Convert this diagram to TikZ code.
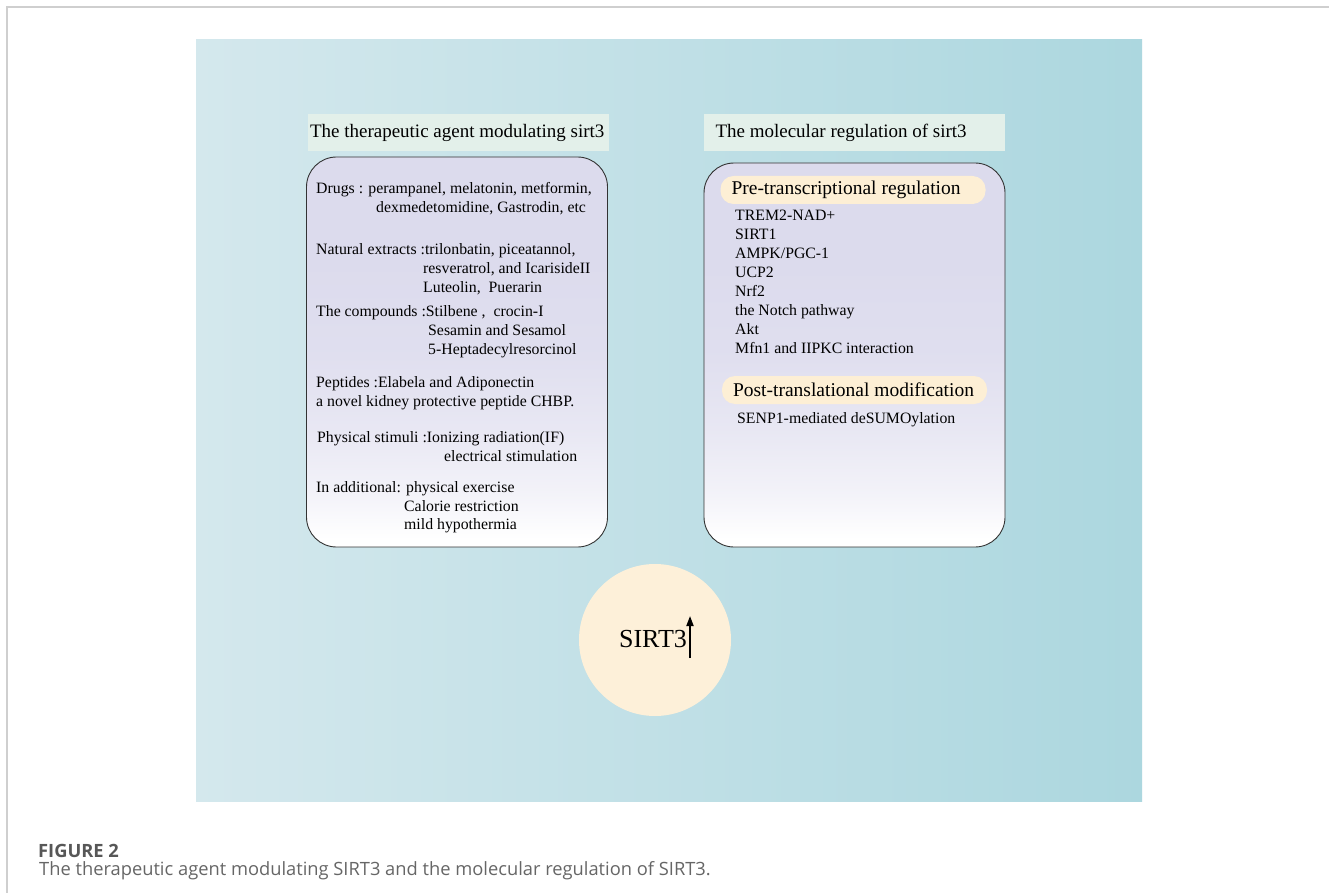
\documentclass[tikz,border=0pt]{standalone}
\usepackage{fontspec}
\setmainfont{Liberation Serif}
\newfontfamily\capfont{Open Sans}
\usetikzlibrary{arrows.meta}

\definecolor{frameline}{HTML}{CFCFCF}
\definecolor{panelleft}{HTML}{D4E8ED}
\definecolor{panelright}{HTML}{ACD7DF}
\definecolor{titlegreen}{HTML}{E3F0EA}
\definecolor{boxlav}{HTML}{DCDBED}
\definecolor{peach}{HTML}{FDEFD5}
\definecolor{sirtfill}{HTML}{FDF0D9}
\definecolor{captext}{HTML}{666666}

% lavender at the top, fading to white near the bottom
\pgfdeclareverticalshading{boxfade}{100bp}{color(0bp)=(white); color(26bp)=(white);
  color(32bp)=(boxlav!35!white); color(40bp)=(boxlav!65!white); color(50bp)=(boxlav!90!white);
  color(62bp)=(boxlav); color(100bp)=(boxlav)}

\begin{document}
\begin{tikzpicture}[x=1pt,y=-1pt,
  titlebox/.style={fill=titlegreen,inner sep=0pt,minimum width=301pt,minimum height=37pt},
  titletext/.style={font=\fontsize{19}{22}\selectfont,inner sep=0pt,anchor=west},
  agentbox/.style={draw=black!80,line width=0.9pt,rounded corners=30pt,shading=boxfade,
    inner sep=0pt,minimum width=301pt},
  bodytext/.style={font=\fontsize{15.8}{19}\selectfont,inner sep=0pt,anchor=base west},
  headband/.style={fill=peach,rounded corners=13pt,inner sep=0pt,minimum width=265pt,minimum height=28pt},
  headtext/.style={font=\fontsize{19.5}{22}\selectfont,inner sep=0pt,anchor=west}]
\useasboundingbox (0,0) rectangle (1329,893);
\fill[white] (0,0) rectangle (1329,893);
\draw[frameline,line width=1.5pt] (7,893) -- (7,7) -- (1329,7);

% background panel
\shade[left color=panelleft,right color=panelright] (196,40) rectangle (1142,801);

% left column: therapeutic agents
\node[titlebox] (agenttitle) at (458.5,132.5) {};
\node[titletext] at ([xshift=2pt]agenttitle.west) {The therapeutic agent modulating sirt3};
\node[agentbox,minimum height=390pt] (agents) at (457,352) {};

\node[bodytext] (drugs) at (316,193.5) {Drugs : perampanel, melatonin, metformin,};
\node[bodytext] at (376,212.5) {dexmedetomidine, Gastrodin, etc};
\node[bodytext] (natural) at (316,254.5) {Natural extracts :trilonbatin, piceatannol,};
\node[bodytext] at (423,273.5) {resveratrol, and IcarisideII};
\node[bodytext] at (423,292.5) {Luteolin,\ \ Puerarin};
\node[bodytext] (compounds) at (316,316.5) {The compounds :Stilbene ,\ \ crocin-I};
\node[bodytext] at (428,335.5) {Sesamin and Sesamol};
\node[bodytext] at (428,354.5) {5-Heptadecylresorcinol};
\node[bodytext] (peptides) at (316,387.5) {Peptides :Elabela and Adiponectin};
\node[bodytext] at (316,406.5) {a novel kidney protective peptide CHBP.};
\node[bodytext] (physical) at (317,442.5) {Physical stimuli :Ionizing radiation(IF)};
\node[bodytext] at (444,461.5) {electrical stimulation};
\node[bodytext] (additional) at (316,492.5) {In additional: physical exercise};
\node[bodytext] at (404,511.5) {Calorie restriction};
\node[bodytext] at (404,529.5) {mild hypothermia};

% right column: molecular regulation
\node[titlebox] (regtitle) at (854,132.5) {};
\node[titletext] at ([xshift=12pt]regtitle.west) {The molecular regulation of sirt3};
\node[agentbox,minimum height=384pt] (regulation) at (854.5,355) {};

\node[headband] (pretrans) at (853,190) {};
\node[headtext] at ([xshift=11pt]pretrans.west) {Pre-transcriptional regulation};
\foreach \item [count=\i] in {TREM2-NAD+,SIRT1,AMPK/PGC-1,UCP2,Nrf2,the Notch pathway,Akt,Mfn1 and IIPKC interaction}
  \node[bodytext] at (735,{201.5+19*\i}) {\item};

\node[headband] (posttrans) at (854.5,390) {};
\node[headtext] at ([xshift=11pt]posttrans.west) {Post-translational modification};
\node[bodytext] at (737,423.5) {SENP1-mediated deSUMOylation};

% SIRT3 circle
\node[circle,fill=sirtfill,minimum size=152pt,inner sep=0pt] (sirt) at (655,640) {};
\node[font=\fontsize{26}{30}\selectfont,inner sep=0pt] (sirtlabel) at (653,639) {SIRT3};
\coordinate (uplow) at (690,658);
\coordinate (uphigh) at (690,616);
\draw[line width=1.8pt,-{Triangle[length=10pt,width=7pt]}] (uplow) -- (uphigh);

% caption
\node[font=\capfont\fontsize{18.3}{21}\selectfont\bfseries,text=captext!85!black,anchor=west,inner sep=0pt] (figlabel) at (38,851) {FIGURE 2};
\node[font=\capfont\fontsize{18.3}{21}\selectfont,text=captext,anchor=west,inner sep=0pt] (figcaption) at (39,871)
  {The therapeutic agent modulating SIRT3 and the molecular regulation of SIRT3.};
\end{tikzpicture}
\end{document}
